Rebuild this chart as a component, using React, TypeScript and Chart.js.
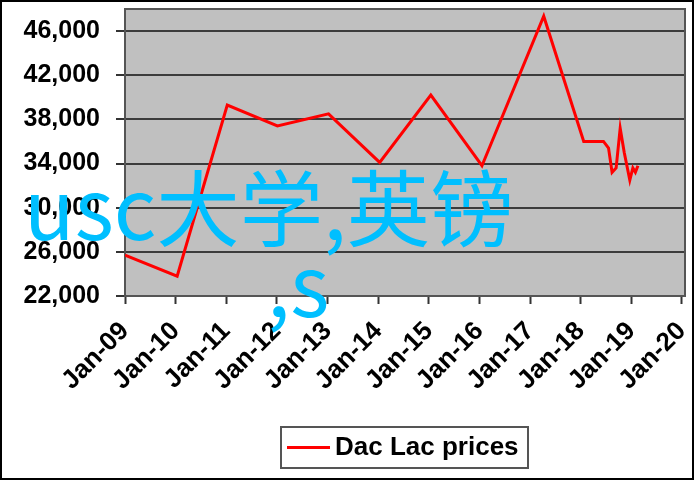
import React, { useEffect, useRef } from "react";
import { Chart, registerables } from "chart.js";

Chart.register(...registerables);

// ---- data ----
const xTickLabels = [
  "Jan-09", "Jan-10", "Jan-11", "Jan-12", "Jan-13", "Jan-14",
  "Jan-15", "Jan-16", "Jan-17", "Jan-18", "Jan-19", "Jan-20",
];
const yTickValues = [22000, 26000, 30000, 34000, 38000, 42000, 46000];
const seriesLabel = "Dac Lac prices";
// time in years after Jan-09
const yearsSinceStart = [
  0, 1.03, 2.02, 3.01, 4.02, 5.03, 6.04, 7.05, 8.27, 9.06,
  9.45, 9.55, 9.62, 9.7, 9.78, 9.86, 9.97, 10.03, 10.08, 10.13,
];
const prices = [
  25700, 23800, 39300, 37400, 38500, 34100, 40200, 33800, 47350, 36000,
  36000, 35400, 33200, 33600, 37200, 35000, 32500, 33600, 33200, 33800,
];
const overlayLines = ["usc大学,英镑", ",s"];

const FONT = "'Liberation Sans', Arial, sans-serif";

const zeroPad = (s: any) => {
  s.paddingTop = 0;
  s.paddingBottom = 0;
  s.paddingLeft = 0;
  s.paddingRight = 0;
};

const decorPlugin = {
  id: "decor",
  beforeDraw(chart: any) {
    const { ctx, chartArea: a } = chart;
    ctx.save();
    ctx.fillStyle = "#ffffff";
    ctx.fillRect(0, 0, chart.width, chart.height);
    ctx.fillStyle = "#c0c0c0";
    ctx.fillRect(a.left, a.top, a.right - a.left, a.bottom - a.top);
    ctx.restore();
  },
  beforeDatasetsDraw(chart: any) {
    const { ctx, chartArea: a } = chart;
    ctx.save();
    ctx.strokeStyle = "#555555";
    ctx.lineWidth = 2;
    ctx.strokeRect(a.left, a.top, a.right - a.left, a.bottom - a.top);
    ctx.restore();
  },
  afterDraw(chart: any) {
    const { ctx } = chart;
    const ds = chart.data.datasets[0];
    ctx.save();
    // legend
    ctx.strokeStyle = "#555555";
    ctx.lineWidth = 2;
    ctx.strokeRect(281, 427, 247, 41);
    ctx.strokeStyle = ds.borderColor;
    ctx.lineWidth = 3;
    ctx.beginPath();
    ctx.moveTo(287, 447.5);
    ctx.lineTo(330, 447.5);
    ctx.stroke();
    ctx.fillStyle = "#000";
    ctx.font = `bold 26px ${FONT}`;
    ctx.textBaseline = "middle";
    ctx.textAlign = "left";
    ctx.fillText(ds.label, 335, 448);
    // overlay text
    ctx.fillStyle = "#00bfff";
    ctx.font = `83.5px 'Noto Sans CJK SC', sans-serif`;
    ctx.textBaseline = "alphabetic";
    ctx.fillText(overlayLines[0], 24, 240);
    ctx.fillText(overlayLines[1], 267, 317);
    // outer frame
    ctx.strokeStyle = "#000";
    ctx.lineWidth = 2;
    ctx.strokeRect(1, 1, 692, 478);
    ctx.restore();
  },
};

export default function App() {
  const ref = useRef<HTMLCanvasElement | null>(null);
  useEffect(() => {
    document.body.style.margin = "0";
    const canvas = ref.current;
    if (!canvas) return;
    const chart = new Chart(canvas, {
      type: "line",
      data: {
        datasets: [
          {
            label: seriesLabel,
            data: yearsSinceStart.map((x, i) => ({ x, y: prices[i] })),
            borderColor: "#ff0000",
            backgroundColor: "#ff0000",
            borderWidth: 3,
            pointRadius: 0,
            tension: 0,
          },
        ],
      },
      options: {
        responsive: false,
        animation: false,
        devicePixelRatio: 1,
        layout: { padding: { top: 9, right: 10, left: 0, bottom: 0 } },
        plugins: { legend: { display: false }, tooltip: { enabled: false } },
        scales: {
          x: {
            type: "linear",
            min: 0,
            max: 11.06,
            afterBuildTicks: (s: any) => {
              s.ticks = xTickLabels.map((_, i) => ({ value: i }));
            },
            afterFit: (s: any) => {
              s.height = 185;
              zeroPad(s);
            },
            grid: {
              drawOnChartArea: false,
              drawTicks: true,
              tickLength: 8,
              tickColor: "#333",
              tickWidth: 2,
            },
            border: { display: false },
            ticks: {
              autoSkip: false,
              maxRotation: 45,
              minRotation: 45,
              padding: 12,
              color: "#000",
              font: { family: FONT, size: 26, weight: "bold" },
              callback: (_v: any, i: number) => xTickLabels[i],
            },
          },
          y: {
            min: 22000,
            max: 48000,
            afterBuildTicks: (s: any) => {
              s.ticks = yTickValues.map((v) => ({ value: v }));
            },
            afterFit: (s: any) => {
              s.width = 125;
              zeroPad(s);
            },
            grid: {
              color: "#3c3c3c",
              lineWidth: 2,
              tickLength: 9,
              tickColor: "#333",
              tickWidth: 2,
            },
            border: { display: false },
            ticks: {
              padding: 16,
              color: "#000",
              font: { family: FONT, size: 25, weight: "bold" },
              callback: (v: any) => Number(v).toLocaleString("en-US"),
            },
          },
        },
      },
      plugins: [decorPlugin],
    });
    return () => chart.destroy();
  }, []);
  return (
    <div style={{ width: 695, height: 481 }}>
      <canvas ref={ref} width={695} height={481} style={{ display: "block" }} />
    </div>
  );
}
